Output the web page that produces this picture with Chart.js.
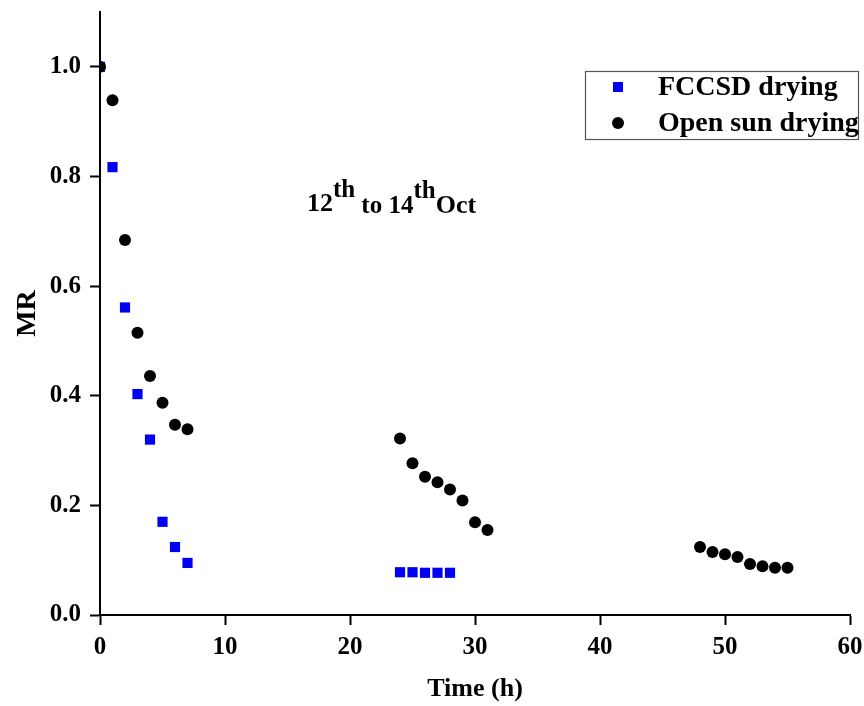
<!DOCTYPE html>
<html>
<head>
<meta charset="utf-8">
<script src="https://cdn.jsdelivr.net/npm/chart.js@4/dist/chart.umd.min.js"></script>
<style>
html,body{margin:0;padding:0;background:#fff;}
#wrap{width:864px;height:706px;position:relative;}
</style>
</head>
<body>
<div id="wrap"><canvas id="c" width="864" height="706"></canvas></div>
<script>
const fccsdTime = [0, 1, 2, 3, 4, 5, 6, 7, 24, 25, 26, 27, 28];
const fccsdMR   = [1.0, 0.817, 0.561, 0.403, 0.320, 0.170, 0.124, 0.095, 0.078, 0.078, 0.077, 0.077, 0.077];
const sunTime = [0, 1, 2, 3, 4, 5, 6, 7, 24, 25, 26, 27, 28, 29, 30, 31, 48, 49, 50, 51, 52, 53, 54, 55];
const sunMR   = [1.0, 0.939, 0.684, 0.515, 0.436, 0.387, 0.347, 0.339, 0.322, 0.277, 0.252, 0.242, 0.229, 0.209, 0.169, 0.155, 0.124, 0.115, 0.111, 0.106, 0.093, 0.089, 0.086, 0.086];
const seriesLabels = ['FCCSD drying', 'Open sun drying'];
const xTickStep = 10;
const yTickStep = 0.2;
const annotationParts = [
  {text: '12', shift: 0, size: 26},
  {text: 'th', shift: -14, size: 25},
  {text: ' to 14', shift: 2, size: 25},
  {text: 'th', shift: -13, size: 25},
  {text: 'Oct', shift: 2, size: 26}
];
const annotationAnchor = {x: 16.55, y: 0.737};

const FONT = '"Liberation Serif", "Times New Roman", serif';
const BLUE = '#0000f5';

function toPts(xs, ys){ return xs.map((x,i)=>({x:x, y:ys[i]})); }

const customDraw = {
  id: 'customDraw',
  afterDraw(chart){
    const ctx = chart.ctx;
    const xs = chart.scales.x, ys = chart.scales.y;
    ctx.save();
    // annotation
    ctx.fillStyle = '#000';
    ctx.textBaseline = 'alphabetic';
    let ax = xs.getPixelForValue(annotationAnchor.x);
    const ay = ys.getPixelForValue(annotationAnchor.y);
    annotationParts.forEach(p => {
      ctx.font = 'bold ' + p.size + 'px ' + FONT;
      ctx.fillText(p.text, ax, ay + p.shift);
      ax += ctx.measureText(p.text).width;
    });
    // legend
    const bx = 585, by = 71, bw = 273, bh = 68;
    ctx.strokeStyle = '#555';
    ctx.lineWidth = 1.2;
    ctx.strokeRect(bx + 0.5, by + 0.5, bw, bh);
    ctx.font = 'bold 28px ' + FONT;
    const rows = [by + 16, by + 52];
    chart.data.datasets.forEach((ds, i) => {
      const cy = rows[i];
      ctx.fillStyle = ds.backgroundColor;
      if (ds.pointStyle === 'rect') {
        ctx.fillRect(bx + 28, cy - 5, 10, 10);
      } else {
        ctx.beginPath(); ctx.arc(bx + 33, cy, 6, 0, Math.PI * 2); ctx.fill();
      }
      ctx.fillStyle = '#000';
      ctx.textBaseline = 'middle';
      ctx.fillText(ds.label, bx + 73, cy + 1);
    });
    ctx.restore();
  }
};

new Chart(document.getElementById('c'), {
  type: 'scatter',
  data: {
    datasets: [
      {
        label: seriesLabels[0],
        data: toPts(fccsdTime, fccsdMR),
        pointStyle: 'rect',
        pointRadius: 7.2,
        pointHoverRadius: 7.2,
        backgroundColor: BLUE,
        borderColor: BLUE,
        borderWidth: 0,
        clip: 0,
        order: 1
      },
      {
        label: seriesLabels[1],
        data: toPts(sunTime, sunMR),
        pointStyle: 'circle',
        pointRadius: 6,
        pointHoverRadius: 6,
        backgroundColor: '#000',
        borderColor: '#000',
        borderWidth: 0,
        clip: 0,
        order: 0
      }
    ]
  },
  options: {
    responsive: false,
    animation: false,
    events: [],
    layout: {padding: {top: 12, right: 14, left: 0, bottom: 0}},
    plugins: {legend: {display: false}, tooltip: {enabled: false}},
    scales: {
      x: {
        type: 'linear',
        min: 0, max: 60,
        afterFit(s){ s.height = 91; s.paddingLeft = 0; s.paddingRight = 0; },
        ticks: {stepSize: xTickStep, color: '#000', font: {family: FONT, weight: 'bold', size: 25}, padding: 8, maxRotation: 0},
        grid: {drawOnChartArea: false, drawTicks: true, tickLength: 10, tickWidth: 2, tickColor: '#000'},
        border: {display: true, color: '#000', width: 2},
        title: {display: true, text: 'Time (h)', color: '#000', font: {family: FONT, weight: 'bold', size: 26}, padding: {top: 0, bottom: 1}}
      },
      y: {
        type: 'linear',
        min: 0, max: 1.1,
        afterFit(s){ s.width = 100; s.paddingTop = 0; s.paddingBottom = 0; },
        ticks: {stepSize: yTickStep, includeBounds: false, color: '#000', font: {family: FONT, weight: 'bold', size: 25}, padding: 9,
          callback: v => Number(v).toFixed(1)},
        grid: {drawOnChartArea: false, drawTicks: true, tickLength: 10, tickWidth: 2, tickColor: '#000'},
        border: {display: true, color: '#000', width: 2},
        title: {display: true, text: 'MR', color: '#000', font: {family: FONT, weight: 'bold', size: 28}, padding: {top: 11, bottom: 0}}
      }
    }
  },
  plugins: [customDraw]
});
</script>
</body>
</html>
